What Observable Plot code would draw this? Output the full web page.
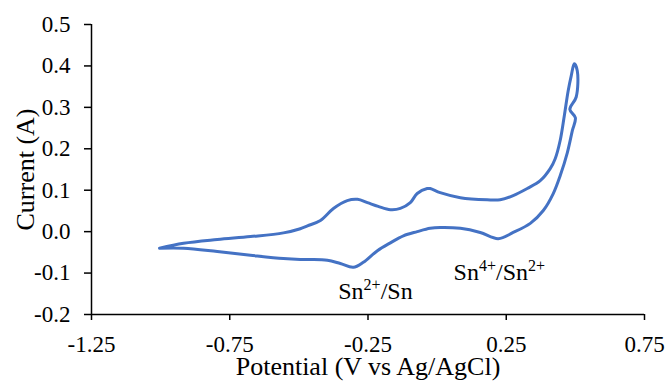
<!DOCTYPE html>
<html>
<head>
<meta charset="utf-8">
<script src="https://cdn.jsdelivr.net/npm/d3@7"></script>
<script src="https://cdn.jsdelivr.net/npm/@observablehq/plot@0.6"></script>
<style>
  html, body { margin: 0; padding: 0; background: white; }
  svg { display: block; }
</style>
</head>
<body>
<div id="chart"></div>
<script>
// Forward (anodic) sweep: potential (V) and current (A)
const forwardPotential = [-1.004, -0.917, -0.795, -0.675, -0.556, -0.495, -0.469, -0.422, -0.375, -0.325, -0.288, -0.252, -0.213, -0.169, -0.133, -0.097, -0.072, -0.036, -0.025, 0.011, 0.084, 0.181, 0.228, 0.275, 0.326, 0.373, 0.409, 0.427, 0.445, 0.460, 0.474, 0.485, 0.496];
const forwardCurrent   = [-0.040, -0.028, -0.019, -0.012, -0.003, 0.007, 0.014, 0.027, 0.056, 0.075, 0.078, 0.070, 0.061, 0.053, 0.056, 0.070, 0.092, 0.104, 0.104, 0.094, 0.082, 0.077, 0.077, 0.087, 0.104, 0.123, 0.152, 0.176, 0.220, 0.280, 0.340, 0.376, 0.405];
// Reverse (cathodic) sweep
const reversePotential = [0.507, 0.503, 0.480, 0.500, 0.489, 0.471, 0.445, 0.420, 0.384, 0.337, 0.275, 0.221, 0.156, 0.084, 0.011, -0.025, -0.072, -0.122, -0.169, -0.216, -0.267, -0.303, -0.350, -0.397, -0.458, -0.495, -0.556, -0.675, -0.795, -0.917, -1.004];
const reverseCurrent   = [0.388, 0.325, 0.295, 0.275, 0.244, 0.191, 0.135, 0.092, 0.051, 0.020, -0.002, -0.017, -0.002, 0.008, 0.010, 0.008, 0.000, -0.010, -0.027, -0.046, -0.074, -0.086, -0.077, -0.069, -0.067, -0.067, -0.065, -0.057, -0.048, -0.040, -0.040];

const xTicks = [-1.25, -0.75, -0.25, 0.25, 0.75];
const yTicks = [-0.2, -0.1, 0.0, 0.1, 0.2, 0.3, 0.4, 0.5];
const xTitle = "Potential (V vs Ag/AgCl)";
const yTitle = "Current (A)";

// Peak labels: [text, isSuperscript] parts
const annotLabels = [
  {x: -0.223, y: -0.143, parts: [["Sn", false], ["2+", true], ["/Sn", false]]},
  {x: 0.225, y: -0.099, parts: [["Sn", false], ["4+", true], ["/Sn", false], ["2+", true]]}
];

const cv = [
  ...forwardPotential.map((p, i) => ({potential: p, current: forwardCurrent[i]})),
  ...reversePotential.map((p, i) => ({potential: p, current: reverseCurrent[i]}))
];

const font = "'Liberation Serif', 'Times New Roman', Times, serif";

const chart = Plot.plot({
  width: 667,
  height: 381,
  marginLeft: 91,
  marginRight: 23,
  marginTop: 24,
  marginBottom: 67,
  x: {domain: [-1.25, 0.75]},
  y: {domain: [-0.2, 0.5]},
  style: {fontFamily: font, fontSize: "23px", color: "black", background: "white", overflow: "visible"},
  marks: [
    Plot.axisX({ticks: xTicks, tickFormat: d => d.toFixed(2), tickSize: 6, tickPadding: 15, strokeWidth: 1.5, label: null, fontSize: 23}),
    Plot.axisY({ticks: yTicks, tickFormat: d => d.toFixed(1), tickSize: 7, tickPadding: 14, strokeWidth: 1.5, label: null, fontSize: 23}),
    Plot.ruleX([-1.25], {stroke: "black", strokeWidth: 1.5}),
    Plot.ruleY([-0.2], {stroke: "black", strokeWidth: 1.5}),
    Plot.line(cv, {x: "potential", y: "current", stroke: "#4472C4", strokeWidth: 3, curve: "catmull-rom"}),
    Plot.text([xTitle], {frameAnchor: "bottom", dy: 52.5, fontSize: 26, textAnchor: "middle", lineAnchor: "middle"}),
    Plot.text([yTitle], {frameAnchor: "left", dx: -66, rotate: -90, fontSize: 26, textAnchor: "middle", lineAnchor: "middle"}),
    Plot.text(annotLabels, {x: "x", y: "y", text: d => d.parts.map(p => p[0]).join(""), fontSize: 24, textAnchor: "middle", lineAnchor: "middle", ariaDescription: "annot"})
  ]
});

// rebuild annotation text with superscripts (still real text)
d3.select(chart).selectAll('g[aria-description="annot"] text').each(function(_, i) {
  const t = d3.select(this);
  const parts = annotLabels[i].parts;
  t.text(null);
  let raised = false;
  parts.forEach(([s, sup]) => {
    const ts = t.append("tspan").text(s);
    if (sup && !raised) { ts.attr("dy", -9).attr("font-size", 16); raised = true; }
    else if (sup && raised) { ts.attr("font-size", 16); }
    else if (!sup && raised) { ts.attr("dy", 9); raised = false; }
  });
});

document.getElementById("chart").append(chart);
</script>
</body>
</html>
